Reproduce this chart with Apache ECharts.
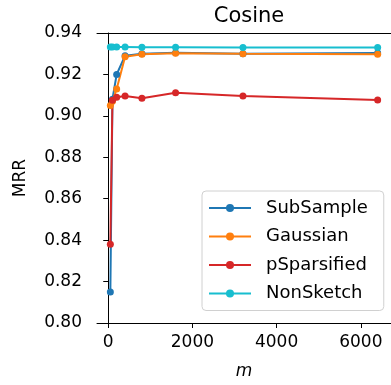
<!DOCTYPE html>
<html>
<head>
<meta charset="utf-8">
<script src="https://cdn.jsdelivr.net/npm/echarts@6/dist/echarts.min.js"></script>
<style>
  html, body { margin: 0; padding: 0; background: #fff; }
  #chart { width: 391px; height: 385px; }
</style>
</head>
<body>
<div id="chart"></div>
<script>
// sketch sizes m
var mValues = [50, 100, 200, 400, 800, 1600, 3200, 6400];
var subSample = [0.815, 0.908, 0.920, 0.929, 0.930, 0.9305, 0.930, 0.9303];
var gaussian = [0.905, 0.907, 0.913, 0.9285, 0.9297, 0.9302, 0.930, 0.9297];
var pSparsified = [0.838, 0.9075, 0.909, 0.9096, 0.9085, 0.9112, 0.9096, 0.9077];
var nonSketch = [0.9332, 0.9332, 0.9332, 0.9332, 0.9331, 0.9331, 0.933, 0.933];
var xTicks = [0, 2000, 4000, 6000];

var font = 'DejaVu Sans';

function pairs(ys) {
  return mValues.map(function (m, i) { return [m, ys[i]]; });
}

function makeSeries(name, ys, color) {
  return {
    name: name,
    type: 'line',
    data: pairs(ys),
    symbol: 'circle',
    symbolSize: 7,
    lineStyle: { width: 2, color: color },
    itemStyle: { color: color },
    emphasis: { disabled: true }
  };
}

var chart = echarts.init(document.getElementById('chart'));
var option = {
  animation: false,
  title: {
    text: 'Cosine',
    left: 244,
    textAlign: 'center',
    top: 1,
    textStyle: { fontFamily: font, fontSize: 21, fontWeight: 'normal', color: '#000' }
  },
  grid: { left: 97, top: 33, right: -2, bottom: 62 },
  legend: {
    orient: 'vertical',
    left: 202,
    top: 191,
    padding: [8, 16, 8, 6],
    itemWidth: 42,
    itemHeight: 10,
    itemGap: 10.5,
    backgroundColor: '#fff',
    borderColor: '#d0d0d0',
    borderWidth: 1,
    borderRadius: 4,
    textStyle: { fontFamily: font, fontSize: 18, color: '#000', padding: [0, 0, 0, 10] },
    data: ['SubSample', 'Gaussian', 'pSparsified', 'NonSketch']
  },
  xAxis: [{
    type: 'value',
    min: -267,
    max: 6717,
    name: 'm',
    nameLocation: 'middle',
    nameGap: 40,
    nameTextStyle: { fontFamily: font, fontSize: 17, fontStyle: 'italic', color: '#000' },
    splitLine: { show: false },
    axisLine: { show: true, onZero: false, lineStyle: { color: '#000', width: 1 } },
    axisTick: { show: true, length: 5, customValues: xTicks, lineStyle: { color: '#000' } },
    axisLabel: {
      customValues: xTicks,
      margin: 11,
      fontFamily: font, fontSize: 17, color: '#000',
      formatter: function (v) { return String(v); }
    }
  }, {
    // top spine
    type: 'value',
    position: 'top',
    min: -267,
    max: 6717,
    axisLine: { show: true, onZero: false, lineStyle: { color: '#000', width: 1 } },
    axisTick: { show: false },
    axisLabel: { show: false },
    splitLine: { show: false }
  }],
  yAxis: {
    type: 'value',
    min: 0.80,
    max: 0.94,
    interval: 0.02,
    name: 'MRR',
    nameLocation: 'middle',
    nameGap: 68,
    nameTextStyle: { fontFamily: font, fontSize: 17, color: '#000' },
    splitLine: { show: false },
    axisLine: { show: true, lineStyle: { color: '#000', width: 1 } },
    axisTick: { show: true, length: 5, lineStyle: { color: '#000' } },
    axisLabel: {
      margin: 15,
      fontFamily: font, fontSize: 17, color: '#000',
      formatter: function (v) { return v.toFixed(2); }
    }
  },
  series: [
    makeSeries('SubSample', subSample, '#1f77b4'),
    makeSeries('Gaussian', gaussian, '#ff7f0e'),
    makeSeries('pSparsified', pSparsified, '#d62728'),
    makeSeries('NonSketch', nonSketch, '#17becf')
  ]
};
chart.setOption(option);
</script>
</body>
</html>
